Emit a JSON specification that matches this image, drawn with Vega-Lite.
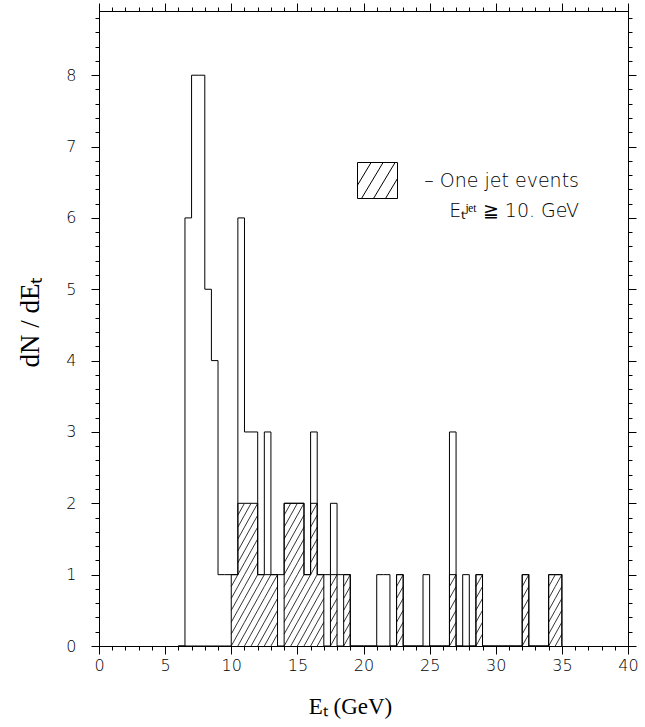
{
  "$schema": "https://vega.github.io/schema/vega-lite/v6.json",
  "width": 529,
  "height": 635,
  "autosize": {"type": "none"},
  "padding": {"left": 99, "top": 11, "right": 17, "bottom": 81},
  "background": "white",
  "config": {
    "view": {"stroke": "black", "strokeWidth": 1},
    "style": {"guide-label": {"lineHeight": 30}},
    "axis": {
      "domain": false,
      "grid": false,
      "ticks": true,
      "tickColor": "black",
      "tickWidth": 1,
      "tickOpacity": 1,
      "labelColor": "black",
      "labelFont": "DejaVu Sans",
      "labelFontWeight": 200,
      "labelFontSize": 16,
      "labelFlush": false,
      "labelOverlap": false,
      "titleFont": "Liberation Serif",
      "titleFontWeight": "normal",
      "titleFontSize": 23,
      "titleColor": "black"
    }
  },
  "data": {
    "values": [
      {"E": 6.0, "all": 0, "jet": 0},
      {"E": 6.5, "all": 6, "jet": 0},
      {"E": 7.0, "all": 8, "jet": 0},
      {"E": 7.5, "all": 8, "jet": 0},
      {"E": 8.0, "all": 5, "jet": 0},
      {"E": 8.5, "all": 4, "jet": 0},
      {"E": 9.0, "all": 1, "jet": 0},
      {"E": 9.5, "all": 1, "jet": 0},
      {"E": 10.0, "all": 1, "jet": 1},
      {"E": 10.5, "all": 6, "jet": 2},
      {"E": 11.0, "all": 3, "jet": 2},
      {"E": 11.5, "all": 3, "jet": 2},
      {"E": 12.0, "all": 1, "jet": 1},
      {"E": 12.5, "all": 3, "jet": 1},
      {"E": 13.0, "all": 1, "jet": 1},
      {"E": 13.5, "all": 1, "jet": 0},
      {"E": 14.0, "all": 2, "jet": 2},
      {"E": 14.5, "all": 2, "jet": 2},
      {"E": 15.0, "all": 2, "jet": 2},
      {"E": 15.5, "all": 1, "jet": 1},
      {"E": 16.0, "all": 3, "jet": 2},
      {"E": 16.5, "all": 1, "jet": 1},
      {"E": 17.0, "all": 1, "jet": 0},
      {"E": 17.5, "all": 2, "jet": 1},
      {"E": 18.0, "all": 1, "jet": 0},
      {"E": 18.5, "all": 1, "jet": 1},
      {"E": 19.0, "all": 0, "jet": 0},
      {"E": 19.5, "all": 0, "jet": 0},
      {"E": 20.0, "all": 0, "jet": 0},
      {"E": 20.5, "all": 0, "jet": 0},
      {"E": 21.0, "all": 1, "jet": 0},
      {"E": 21.5, "all": 1, "jet": 0},
      {"E": 22.0, "all": 0, "jet": 0},
      {"E": 22.5, "all": 1, "jet": 1},
      {"E": 23.0, "all": 0, "jet": 0},
      {"E": 23.5, "all": 0, "jet": 0},
      {"E": 24.0, "all": 0, "jet": 0},
      {"E": 24.5, "all": 1, "jet": 0},
      {"E": 25.0, "all": 0, "jet": 0},
      {"E": 25.5, "all": 0, "jet": 0},
      {"E": 26.0, "all": 0, "jet": 0},
      {"E": 26.5, "all": 3, "jet": 1},
      {"E": 27.0, "all": 0, "jet": 0},
      {"E": 27.5, "all": 1, "jet": 0},
      {"E": 28.0, "all": 0, "jet": 0},
      {"E": 28.5, "all": 1, "jet": 1},
      {"E": 29.0, "all": 0, "jet": 0},
      {"E": 29.5, "all": 0, "jet": 0},
      {"E": 30.0, "all": 0, "jet": 0},
      {"E": 30.5, "all": 0, "jet": 0},
      {"E": 31.0, "all": 0, "jet": 0},
      {"E": 31.5, "all": 0, "jet": 0},
      {"E": 32.0, "all": 1, "jet": 1},
      {"E": 32.5, "all": 0, "jet": 0},
      {"E": 33.0, "all": 0, "jet": 0},
      {"E": 33.5, "all": 0, "jet": 0},
      {"E": 34.0, "all": 1, "jet": 1},
      {"E": 34.5, "all": 1, "jet": 1},
      {"E": 35.0, "all": 0, "jet": 0}
    ]
  },
  "resolve": {"axis": {"x": "independent", "y": "independent"}},
  "layer": [
    {
      "transform": [
        {"filter": "datum.jet >= 1"},
        {"calculate": "datum.E + 0.25", "as": "xc"}
      ],
      "mark": {
        "type": "point",
        "shape": "M-3.306,-23.783L3.306,-35.675M-3.306,-11.892L3.306,-23.783M-3.306,0L3.306,-11.892M-3.306,11.892L3.306,0M-3.306,23.783L3.306,11.892M-3.306,35.675L3.306,23.783",
        "size": 4,
        "filled": false,
        "stroke": "black",
        "strokeWidth": 0.8,
        "opacity": 1
      },
      "encoding": {
        "x": {
          "field": "xc", "type": "quantitative",
          "scale": {"domain": [0, 40], "nice": false, "zero": false},
          "axis": {"orient": "top", "values": [0, 5, 10, 15, 20, 25, 30, 35, 40], "tickSize": 8, "labels": false, "title": null}
        },
        "y": {
          "datum": 0.5, "type": "quantitative",
          "scale": {"domain": [0, 8.9], "nice": false},
          "axis": {"orient": "right", "values": [0, 1, 2, 3, 4, 5, 6, 7, 8], "tickSize": 8, "labels": false, "title": null}
        }
      }
    },
    {
      "transform": [
        {"filter": "datum.jet >= 2"},
        {"calculate": "datum.E + 0.25", "as": "xc"}
      ],
      "mark": {
        "type": "point",
        "shape": "M-3.306,-23.783L3.306,-35.675M-3.306,-11.892L3.306,-23.783M-3.306,0L3.306,-11.892M-3.306,11.892L3.306,0M-3.306,23.783L3.306,11.892M-3.306,35.675L3.306,23.783",
        "size": 4,
        "filled": false,
        "stroke": "black",
        "strokeWidth": 0.8,
        "opacity": 1
      },
      "encoding": {
        "x": {
          "field": "xc", "type": "quantitative",
          "scale": {"domain": [0, 40], "nice": false, "zero": false},
          "axis": {"orient": "top", "values": [0, 1, 2, 3, 4, 5, 6, 7, 8, 9, 10, 11, 12, 13, 14, 15, 16, 17, 18, 19, 20, 21, 22, 23, 24, 25, 26, 27, 28, 29, 30, 31, 32, 33, 34, 35, 36, 37, 38, 39, 40], "tickSize": 4, "labels": false, "title": null}
        },
        "y": {
          "datum": 1.5, "type": "quantitative",
          "scale": {"domain": [0, 8.9], "nice": false},
          "axis": {"orient": "right", "values": [0, 0.2, 0.4, 0.6, 0.8, 1, 1.2, 1.4, 1.6, 1.8, 2, 2.2, 2.4, 2.6, 2.8, 3, 3.2, 3.4, 3.6, 3.8, 4, 4.2, 4.4, 4.6, 4.8, 5, 5.2, 5.4, 5.6, 5.8, 6, 6.2, 6.4, 6.6, 6.8, 7, 7.2, 7.4, 7.6, 7.8, 8, 8.2, 8.4, 8.6, 8.8], "tickSize": 4, "labels": false, "title": null}
        }
      }
    },
    {
      "mark": {"type": "line", "interpolate": "step-after", "strokeWidth": 1},
      "encoding": {
        "x": {
          "field": "E", "type": "quantitative",
          "scale": {"domain": [0, 40], "nice": false, "zero": false},
          "axis": {"orient": "bottom", "values": [0, 1, 2, 3, 4, 5, 6, 7, 8, 9, 10, 11, 12, 13, 14, 15, 16, 17, 18, 19, 20, 21, 22, 23, 24, 25, 26, 27, 28, 29, 30, 31, 32, 33, 34, 35, 36, 37, 38, 39, 40], "tickSize": 4, "labels": false, "title": null}
        },
        "y": {
          "field": "jet", "type": "quantitative",
          "scale": {"domain": [0, 8.9], "nice": false},
          "axis": {"orient": "left", "values": [0, 0.2, 0.4, 0.6, 0.8, 1, 1.2, 1.4, 1.6, 1.8, 2, 2.2, 2.4, 2.6, 2.8, 3, 3.2, 3.4, 3.6, 3.8, 4, 4.2, 4.4, 4.6, 4.8, 5, 5.2, 5.4, 5.6, 5.8, 6, 6.2, 6.4, 6.6, 6.8, 7, 7.2, 7.4, 7.6, 7.8, 8, 8.2, 8.4, 8.6, 8.8], "tickSize": 4, "labels": false, "title": null}
        },
        "stroke": {
          "datum": "jet", "type": "nominal",
          "scale": {"range": ["black"]},
          "legend": {
            "orient": "none",
            "legendX": 258,
            "legendY": 149,
            "title": null,
            "symbolType": "M-1,-0.9L1,-0.9L1,0.9L-1,0.9Z M-1,0.233L-0.32,-0.9M-0.8,0.9L0.28,-0.9M-0.2,0.9L0.88,-0.9M0.4,0.9L1,-0.1",
            "symbolSize": 1600,
            "symbolStrokeWidth": 1,
            "symbolStrokeColor": "black",
            "symbolFillColor": "transparent",
            "labelExpr": "['\u2013 One jet events', 'E\u209c\u02b2\u1d49\u1d57 \u2267 10. GeV']",
            "labelAlign": "right",
            "labelFont": "DejaVu Sans",
            "labelFontWeight": 200,
            "labelFontSize": 19,
            "labelColor": "black",
            "labelOffset": 181,
            "labelLimit": 400
          }
        }
      }
    },
    {
      "mark": {"type": "line", "interpolate": "step-after", "strokeWidth": 1, "color": "black"},
      "encoding": {
        "x": {
          "field": "E", "type": "quantitative",
          "scale": {"domain": [0, 40], "nice": false, "zero": false},
          "axis": {"orient": "bottom", "values": [0, 5, 10, 15, 20, 25, 30, 35, 40], "tickSize": 8, "labelPadding": 3, "title": "E\u209c (GeV)", "titleX": 251, "titleY": 67, "titleAlign": "center", "titleBaseline": "alphabetic"}
        },
        "y": {
          "field": "all", "type": "quantitative",
          "scale": {"domain": [0, 8.9], "nice": false},
          "axis": {"orient": "left", "values": [0, 1, 2, 3, 4, 5, 6, 7, 8], "tickSize": 8, "labelPadding": 15, "title": "dN / dE\u209c", "titleFontSize": 27, "titleX": -61, "titleY": 311, "titleAngle": -90, "titleAlign": "center", "titleBaseline": "alphabetic"}
        }
      }
    }
  ]
}
